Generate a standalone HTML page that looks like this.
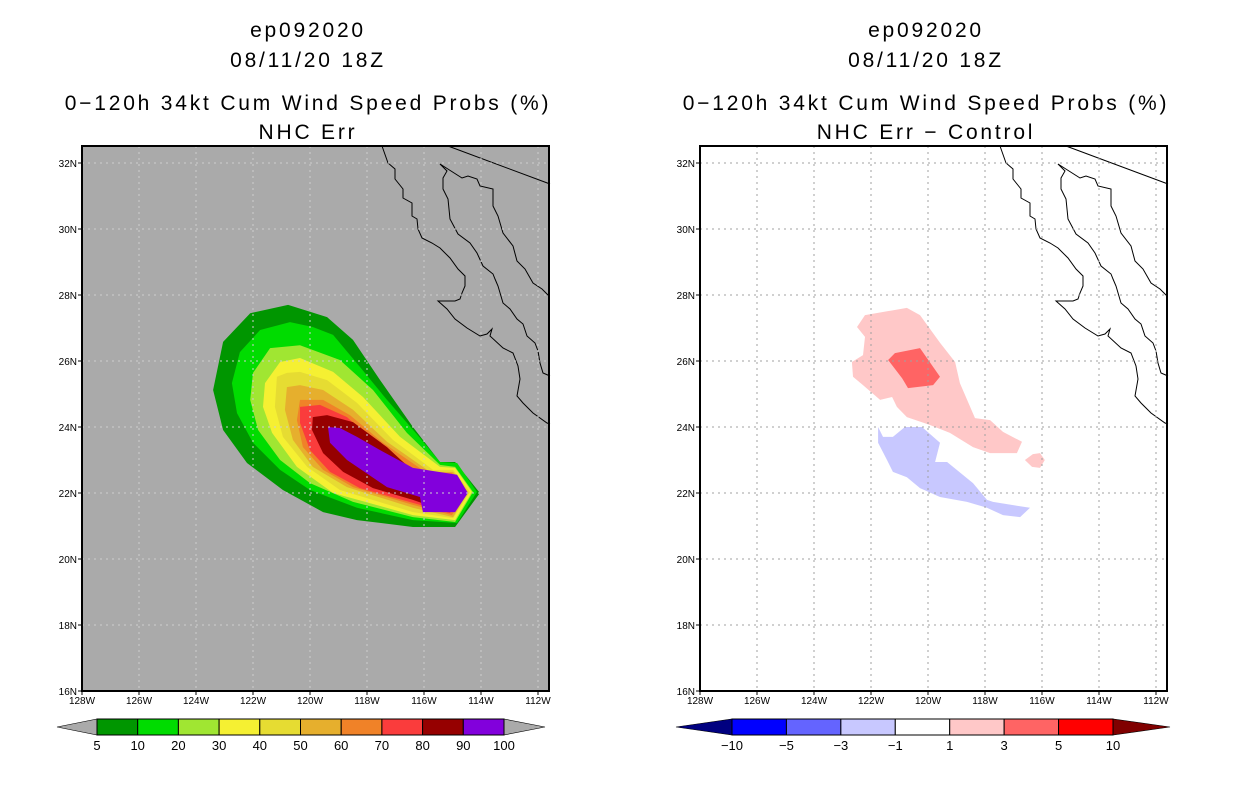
<!DOCTYPE html>
<html><head><meta charset="utf-8"><style>
body{margin:0;background:#fff;width:1236px;height:800px;overflow:hidden}
svg text{font-family:"Liberation Sans",sans-serif}
</style></head><body>
<svg id="s" width="1236" height="800" xmlns="http://www.w3.org/2000/svg">
<g id="titles" font-size="21" text-anchor="middle" fill="#000" letter-spacing="2.8">
<text x="308" y="37">ep092020</text>
<text x="308" y="67">08/11/20 18Z</text>
<text x="308" y="110">0−120h 34kt Cum Wind Speed Probs (%)</text>
<text x="308" y="139">NHC Err</text>
<text x="926" y="37">ep092020</text>
<text x="926" y="67">08/11/20 18Z</text>
<text x="926" y="110">0−120h 34kt Cum Wind Speed Probs (%)</text>
<text x="926" y="139">NHC Err − Control</text>
</g>
</svg>
<script>
// ---- data ----
const lonTicks=[-128,-126,-124,-122,-120,-118,-116,-114,-112];
const latTicks=[16,18,20,22,24,26,28,30,32];
const probLevels=[5,10,20,30,40,50,60,70,80,90];
const probColors=["#009600","#00dc00","#a0e632","#f5f032","#e6dc32","#e6af2d","#f08228","#fa3c3c","#960000","#8200dc"];
const probBarLabels=["5","10","20","30","40","50","60","70","80","90","100"];
const p5=[-120.77,27.7,-122.1,27.45,-123.05,26.58,-123.4,25.12,-123.05,23.91,-122.21,22.91,-120.95,22.09,-119.54,21.42,-118.35,21.18,-116.39,20.97,-114.91,20.97,-114.04,22.0,-114.91,22.94,-115.44,22.94,-116.39,24.0,-117.54,25.42,-118.49,26.64,-119.4,27.33];
const p10=[-120.7,27.18,-121.75,26.94,-122.46,26.27,-122.74,25.33,-122.56,24.42,-122,23.52,-121.05,22.7,-120,22.09,-118.35,21.55,-116.39,21.18,-114.84,21.09,-114.14,22.03,-114.84,22.91,-115.44,22.94,-116.14,23.67,-117.3,24.82,-118.25,25.82,-119.19,26.79,-119.9,27.03];
const p20=[-120.35,26.48,-121.4,26.39,-122,25.64,-122.1,24.82,-121.82,23.91,-121.05,23.0,-120,22.3,-118.49,21.73,-116.39,21.27,-114.91,21.12,-114.28,22.03,-114.91,22.79,-115.44,22.85,-116.6,23.82,-117.79,25.12,-118.95,26.03];
const p30=[-120.35,26.09,-121.05,25.97,-121.58,25.33,-121.65,24.61,-121.33,23.82,-120.46,22.79,-119.19,22.0,-116.39,21.33,-114.91,21.18,-114.32,22.03,-114.91,22.76,-115.44,22.79,-116.84,23.7,-118.14,24.91,-119.19,25.67];
const p40=[-120.81,25.64,-121.16,25.52,-121.23,24.61,-120.95,23.7,-120.1,22.79,-118.95,22.09,-116.39,21.42,-114.98,21.24,-114.39,22.03,-114.98,22.7,-115.68,22.7,-117.09,23.61,-118.35,24.73,-119.4,25.42,-120.35,25.67];
const p50=[-120.35,25.27,-120.81,25.21,-120.88,24.52,-120.6,23.61,-119.9,22.79,-118.7,22.18,-116.39,21.55,-114.98,21.27,-114.46,22.03,-114.98,22.64,-115.79,22.64,-117.3,23.55,-118.49,24.52,-119.54,25.12];
const p60=[-120.35,24.82,-120.46,24.21,-120.25,23.39,-119.54,22.7,-118.49,22.18,-116.39,21.64,-115.02,21.33,-114.49,22.03,-115.02,22.61,-115.9,22.61,-117.44,23.52,-118.6,24.36,-119.54,24.82];
const p70=[-120.35,24.61,-120.35,24.12,-120,23.3,-119.3,22.64,-118.25,22.15,-116.39,21.7,-115.09,21.39,-114.56,22.03,-115.09,22.55,-116.04,22.55,-117.54,23.39,-118.7,24.3,-119.65,24.67];
const p80=[-119.9,24.3,-119.93,23.91,-119.54,23.21,-118.84,22.64,-117.79,22.15,-116.39,21.79,-115.16,21.42,-114.63,22.03,-115.16,22.48,-116.25,22.55,-117.3,23.39,-118.49,24.15,-119.4,24.36];
const p90=[-119.37,24.0,-119.3,23.52,-118.7,23.0,-117.3,22.18,-116.14,21.88,-116.04,21.42,-114.91,21.42,-114.46,22.0,-114.84,22.55,-116.39,22.76,-117.54,23.3,-118.35,23.7,-118.95,23.97];
const probPolys=[p5,p10,p20,p30,p40,p50,p60,p70,p80,p90];
const diffColors=["#000080","#0000ff","#6464ff","#c8c8ff","#ffffff","#ffc8c8","#ff6464","#ff0000","#800000"];
const diffBarLabels=["−10","−5","−3","−1","1","3","5","10"];
const dPos1=[-122.21,27.39,-120.74,27.61,-120.28,27.39,-119.58,26.55,-119.05,25.97,-118.88,25.33,-118.35,24.27,-117.82,24.21,-117.37,23.85,-116.7,23.55,-116.88,23.21,-117.82,23.21,-118.42,23.39,-119.23,23.82,-119.93,24.06,-120.74,24.3,-121.09,24.61,-121.26,24.91,-121.68,24.82,-122.28,25.27,-122.63,25.52,-122.67,25.97,-122.28,26.18,-122.21,26.73,-122.49,27.03];
const dPos1b=[-116.6,23.0,-116.32,23.18,-116.07,23.21,-115.9,23.0,-116.07,22.76,-116.35,22.79];
const dPos3=[-121.4,26.03,-121.16,26.24,-120.28,26.39,-119.58,25.52,-119.82,25.27,-120.7,25.18,-120.91,25.48];
const dNeg1=[-121.75,24.0,-121.58,23.7,-121.23,23.7,-120.81,24.0,-120.21,24.0,-119.58,23.52,-119.75,22.94,-119.33,22.94,-118.42,22.3,-117.93,21.79,-117.72,21.73,-116.42,21.55,-116.77,21.27,-117.37,21.33,-117.93,21.55,-118.63,21.73,-119.58,21.88,-120.28,22.15,-120.74,22.48,-121.23,22.64,-121.44,23.0,-121.75,23.52];
// ---- drawing ----
const NS="http://www.w3.org/2000/svg", svg=document.getElementById('s');
const X0=82, LONMIN=-128, PXLON=28.5, Y0=691, LATMIN=16, PXLAT=33, W=467, H=545, TOP=146;
function xs(lon,off){return off+X0+(lon-LONMIN)*PXLON;}
function ys(lat){return Y0-(lat-LATMIN)*PXLAT;}
function mk(tag,attrs,parent){const e=document.createElementNS(NS,tag);for(const k in attrs)e.setAttribute(k,attrs[k]);(parent||svg).appendChild(e);return e;}
function polyPts(arr,off){let s=[];for(let i=0;i<arr.length;i+=2)s.push(xs(arr[i],off).toFixed(1)+","+ys(arr[i+1]).toFixed(1));return s.join(" ");}
const coastPac="382,146 388,163 395,169 395,179 403,189 403,198 412,203 412,216 417,219 418,229 422,238 432,243 440,248 450,258 458,269 465,276 465,286 462,293 460,299 455,301 438,301 447,309 455,319 467,328 480,336 487,334 492,329 490,336 503,348 513,353 518,366 520,379 517,396 523,403 533,413 547,423 550,424";
const coastGulf="440,164 447,171 443,178 443,189 448,199 450,219 458,234 470,243 477,253 483,266 493,274 495,279 498,286 503,303 510,309 517,319 523,324 527,336 535,343 538,351 540,363 543,373 550,376";
const coastMain="440,164 462,178 468,176 477,179 480,186 493,189 493,206 498,216 503,233 513,246 517,261 525,269 533,283 542,289 549,296";
const border="448,146 550,184";
function panel(off,bg,polys,cols,names,grid){
  const g=mk('g',{});
  
  
  const bgR=mk('rect',{x:X0+off,y:TOP,width:W,height:H,fill:bg},g);
  
  
  polys.forEach((p,i)=>{const e=mk('polygon',{points:polyPts(p,off),fill:cols[i]},g);
    
    });
  const cg=mk('g',{fill:'none',stroke:'#000','stroke-width':1,transform:'translate('+off+',0)'},g);
  [coastPac,coastGulf,coastMain,border].forEach((c,i)=>{const e=mk('polyline',{points:c},cg);
    
    });
  lonTicks.forEach(l=>{const x=xs(l,off);
    if(l>-128){const e=mk('line',{x1:x,x2:x,y1:TOP,y2:Y0,stroke:grid,'stroke-dasharray':'2,4'},g);
      
      }
    const t=mk('line',{x1:x,x2:x,y1:Y0,y2:Y0+4,stroke:'#000'},g);
    
    
    const tx=mk('text',{x:x,y:Y0+13,'font-size':10,'text-anchor':'middle'},g);tx.textContent=(-l)+'W';
    
    });
  latTicks.forEach(l=>{const y=ys(l);
    if(l>16){const e=mk('line',{x1:X0+off,x2:X0+off+W,y1:y,y2:y,stroke:grid,'stroke-dasharray':'2,4'},g);
      
      }
    const t=mk('line',{x1:X0+off-4,x2:X0+off,y1:y,y2:y,stroke:'#000'},g);
    
    
    const tx=mk('text',{x:X0+off-5,y:y+4,'font-size':10,'text-anchor':'end'},g);tx.textContent=l+'N';
    
    });
  const fr=mk('rect',{x:X0+off,y:TOP,width:W,height:H,fill:'none',stroke:'#000','stroke-width':2},g);
  
  
}
panel(0,'#aaaaaa',probPolys,probColors,probLevels.map(v=>'prob-contour-'+v),'#cfcfcf');
panel(618,'#ffffff',[dPos1,dPos1b,dPos3,dNeg1],[diffColors[5],diffColors[5],diffColors[6],diffColors[3]],['diff-contour-pos1','diff-contour-pos1-small','diff-contour-pos3','diff-contour-neg1'],'#a0a0a0');
function colorbar(x0,x1,tipL,tipR,cols,labels,lowTri,highTri,name){
  const g=mk('g',{});
  
  
  const y0=719,y1=735,ym=727,n=cols.length,bw=(x1-x0)/n;
  const a=mk('polygon',{points:tipL+','+ym+' '+x0+','+y0+' '+x0+','+y1,fill:lowTri,stroke:'#000','stroke-width':0.6},g);
  
  
  const b=mk('polygon',{points:tipR+','+ym+' '+x1+','+y0+' '+x1+','+y1,fill:highTri,stroke:'#000','stroke-width':0.6},g);
  
  
  cols.forEach((c,i)=>{const r=mk('rect',{x:x0+i*bw,y:y0,width:bw,height:y1-y0,fill:c,stroke:'#000','stroke-width':1},g);
    
    });
  const nl=labels.length, step=(x1-x0)/(nl-1);
  labels.forEach((l,i)=>{const t=mk('text',{x:x0+i*step,y:750,'font-size':13,'text-anchor':'middle'},g);t.textContent=l;
    
    });
}
colorbar(97,504,57,545,probColors,probBarLabels,'#aaaaaa','#aaaaaa','prob-colorbar');
colorbar(732,1113,676,1170,diffColors.slice(1,8),diffBarLabels,diffColors[0],diffColors[8],'diff-colorbar');
</script>
</body></html>
